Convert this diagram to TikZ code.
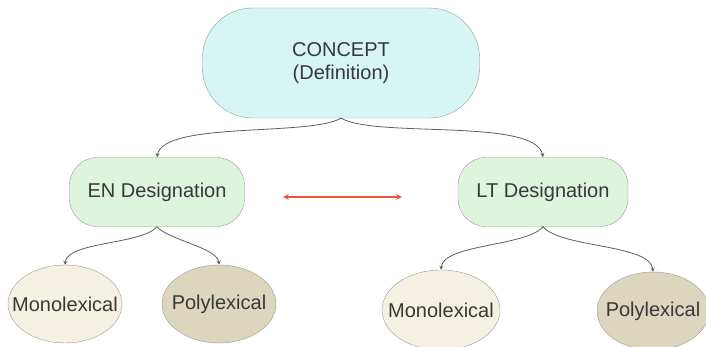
\documentclass[tikz,border=0pt]{standalone}
\usepackage{xcolor}
\usepackage{fontspec}
\setmainfont{Liberation Sans}
\usepackage{tikz}
\usetikzlibrary{shapes,arrows}

\definecolor{conceptfill}{HTML}{D6F5F3}
\definecolor{desigfill}{HTML}{DDF4DD}
\definecolor{monofill}{HTML}{F5F1E2}
\definecolor{polyfill}{HTML}{DCD6BE}
\definecolor{linkgray}{HTML}{5E5E5E}
\definecolor{textgray}{HTML}{383838}
\definecolor{arrowred}{HTML}{E8553A}

\begin{document}
\begin{tikzpicture}[x=1pt,y=1pt,
  box/.style={draw=gray!80,rectangle,text=textgray,font=\fontsize{20}{23}\selectfont,align=center},
  leaf/.style={draw=gray!80,ellipse,inner xsep=-14pt,inner ysep=0pt,text=textgray,font=\fontsize{20}{23}\selectfont},
  link/.style={->,>=stealth,linkgray,line width=0.8pt}]
\useasboundingbox (0,0) rectangle (706,347);
\node[box,fill=conceptfill,rounded corners=50pt,minimum width=277pt,minimum height=110pt] (concept) at (341,284) {CONCEPT\\(Definition)};
\node[box,fill=desigfill,rounded corners=28pt,minimum width=175pt,minimum height=69pt] (en) at (157,155) {EN Designation};
\node[box,fill=desigfill,rounded corners=28pt,minimum width=170pt,minimum height=69pt] (lt) at (543,155) {LT Designation};
\node[leaf,fill=monofill,minimum width=114pt,minimum height=78pt] (enmono) at (65,43) {Monolexical};
\node[leaf,fill=polyfill,minimum width=114pt,minimum height=78pt] (enpoly) at (219,43) {Polylexical};
\node[leaf,fill=monofill,minimum width=118pt,minimum height=80pt] (ltmono) at (441,37) {Monolexical};
\node[leaf,fill=polyfill,minimum width=112pt,minimum height=78pt] (ltpoly) at (653,36) {Polylexical};
\coordinate (redl) at (283,150);
\coordinate (redr) at (402,150);
\draw[link] (concept.south) to[out=-150,in=80,looseness=0.5] (en.north);
\draw[link] (concept.south) to[out=-30,in=100,looseness=0.5] (lt.north);
\draw[link] (en.south) to[out=-130,in=85,looseness=0.6] (enmono.north);
\draw[link] (en.south) to[out=-50,in=95,looseness=0.6] (enpoly.north);
\draw[link] (lt.south) to[out=-130,in=85,looseness=0.6] (ltmono.north);
\draw[link] (lt.south) to[out=-50,in=95,looseness=0.6] (ltpoly.north);
\draw[<->,>=stealth,arrowred,line width=1.6pt] (redl) -- (redr);
\end{tikzpicture}
\end{document}
